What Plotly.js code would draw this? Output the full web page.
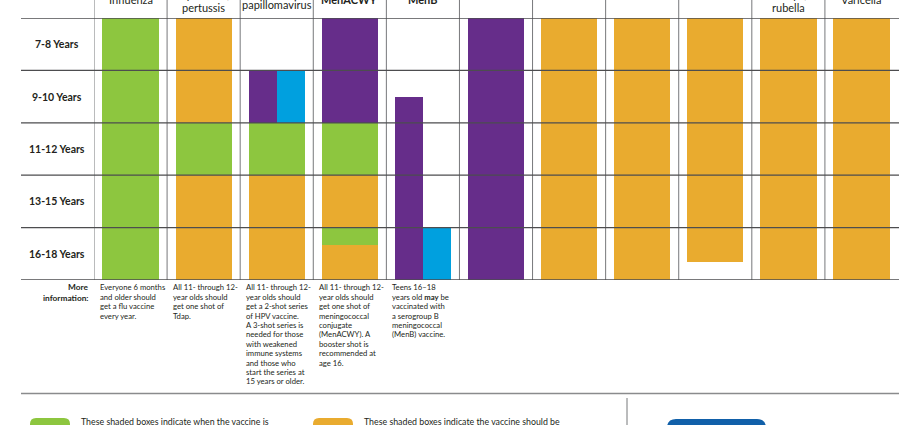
<!DOCTYPE html>
<html>
<head>
<meta charset="utf-8">
<script src="https://cdn.plot.ly/plotly-3.0.1.min.js"></script>
<style>html,body{margin:0;padding:0;background:#fff;}#chart{width:920px;height:425px;}</style>
</head>
<body>
<div id="chart"></div>
<script>
// ---- data ----
const rowLabels = ['7-8 Years', '9-10 Years', '11-12 Years', '13-15 Years', '16-18 Years'];
const vaccines = ['Influenza', 'Tetanus, diphtheria, pertussis', 'Human papillomavirus', 'Meningococcal MenACWY',
  'Meningococcal MenB', 'Pneumococcal', 'Hepatitis B', 'Hepatitis A', 'Polio', 'Measles, mumps, rubella', 'Varicella'];
// header lines that reach into the visible top strip
const headerLines = [['Influenza'], ['diphtheria,', 'pertussis'], ['papillomavirus'],
  ['<b>MenACWY</b>'], ['<b>MenB</b>'], [], [], [], [], ['mumps,', 'rubella'], ['Varicella']];

// segments in row units (0 = start of 7-8 years, 5 = end of 16-18 years)
const greenCol  = [0, 1, 2, 3, 3];
const greenFrom = [0, 2, 2, 2, 4];
const greenTo   = [5, 3, 3, 3, 4.33];
const orangeCol  = [1, 1, 2, 3, 3, 6, 7, 8, 9, 10];
const orangeFrom = [0, 3, 3, 3, 4.33, 0, 0, 0, 0, 0];
const orangeTo   = [2, 5, 5, 4, 5, 5, 5, 4.66, 5, 5];
const purpleCol  = [3, 5];
const purpleFrom = [0, 0];
const purpleTo   = [2, 5];
const purpleHalfCol  = [2, 4];
const purpleHalfFrom = [1, 1.5];
const purpleHalfTo   = [2, 5];
const blueHalfCol  = [2, 4];
const blueHalfFrom = [1, 4];
const blueHalfTo   = [2, 5];

const infoTitle = ['More', 'information:'];
const infoText = [
  ['Everyone 6 months', 'and older should', 'get a flu vaccine', 'every year.'],
  ['All 11- through 12-', 'year olds should', 'get one shot of', 'Tdap.'],
  ['All 11- through 12-', 'year olds should', 'get a 2-shot series', 'of HPV vaccine.', 'A 3-shot series is',
   'needed for those', 'with weakened', 'immune systems', 'and those who', 'start the series at', '15 years or older.'],
  ['All 11- through 12-', 'year olds should', 'get one shot of', 'meningococcal', 'conjugate', '(MenACWY). A',
   'booster shot is', 'recommended at', 'age 16.'],
  ['Teens 16\u201318', 'years old <b>may</b> be', 'vaccinated with', 'a serogroup B', 'meningococcal', '(MenB) vaccine.']
];
const legendTexts = ['These shaded boxes indicate when the vaccine is', 'These shaded boxes indicate the vaccine should be'];

// ---- styles ----
const GREEN = '#8DC63F', ORANGE = '#E9AB2F', PURPLE = '#662D8A', BLUE = '#00A0DF', DARKBLUE = '#1160A9';
const TXT = '#231F20';
const FONT = 'Lato, "Open Sans", sans-serif';
const W = 920, H = 425, L = 94, R = 22, T = 18, B = 145;
const px = X => (X - L) / (W - L - R);
const py = Y => (H - B - Y) / (H - T - B);
const FULL = 0.77, HALF = FULL / 2;

function barTrace(cols, from, to, color, width, offset) {
  return {
    type: 'bar', x: cols.map(c => c + offset), base: from, y: to.map((t, i) => t - from[i]),
    width: cols.map(() => width), marker: {color: color, line: {width: 0}},
    hoverinfo: 'skip', showlegend: false
  };
}
const traces = [
  barTrace(greenCol, greenFrom, greenTo, GREEN, FULL, 0),
  barTrace(orangeCol, orangeFrom, orangeTo, ORANGE, FULL, 0),
  barTrace(purpleCol, purpleFrom, purpleTo, PURPLE, FULL, 0),
  barTrace(purpleHalfCol, purpleHalfFrom, purpleHalfTo, PURPLE, HALF, -HALF / 2),
  barTrace(blueHalfCol, blueHalfFrom, blueHalfTo, BLUE, HALF, HALF / 2)
];

const shapes = [];
// horizontal grid lines
for (let r = 0; r <= rowLabels.length; r++) {
  shapes.push({type: 'line', xref: 'paper', yref: 'y', x0: px(21), x1: px(899), y0: r, y1: r,
    line: {color: '#4d4d4f', width: 1.3}, layer: 'above'});
}
// vertical column lines
for (let c = 0; c < vaccines.length; c++) {
  shapes.push({type: 'line', xref: 'x', yref: 'paper', x0: c - 0.5, x1: c - 0.5, y0: py(280), y1: py(-5),
    line: {color: '#77787b', width: 1}, layer: 'below'});
}
// footer separator and divider
shapes.push({type: 'line', xref: 'paper', yref: 'paper', x0: px(21), x1: px(899), y0: py(393.5), y1: py(393.5),
  line: {color: '#8a8b8d', width: 1.3}});
shapes.push({type: 'line', xref: 'paper', yref: 'paper', x0: px(627), x1: px(627), y0: py(398), y1: py(430),
  line: {color: '#77787b', width: 1}});
// rounded legend boxes
function roundBox(x0, x1, y0, y1, r, color) {
  const path = `M ${x0} ${y1} L ${x0} ${y0 + r} Q ${x0} ${y0} ${x0 + r} ${y0} L ${x1 - r} ${y0} Q ${x1} ${y0} ${x1} ${y0 + r} L ${x1} ${y1} Z`;
  return {type: 'path', xref: 'paper', yref: 'paper',
    path: path.replace(/(-?\d+\.?\d*) (-?\d+\.?\d*)/g, (m, a, b) => `${px(+a)} ${py(+b)}`),
    fillcolor: color, line: {width: 0}};
}
shapes.push(roundBox(30, 70, 418, 440, 6, GREEN));
shapes.push(roundBox(313, 353, 418, 440, 6, ORANGE));
shapes.push(roundBox(667, 766, 419, 450, 9, DARKBLUE));

const annotations = [];
// row labels
rowLabels.forEach((lab, i) => {
  annotations.push({xref: 'paper', yref: 'y', x: px(57), y: i + 0.5, text: '<b>' + lab + '</b>', showarrow: false,
    xanchor: 'center', yanchor: 'middle', font: {family: FONT, size: 10.5, color: TXT}});
});
// header lines (baseline of last line)
const lastBaseline = [4, 11.7, 9.3, 4, 4, 0, 0, 0, 0, 11.7, 4];
headerLines.forEach((lines, c) => {
  lines.forEach((ln, k) => {
    const base = lastBaseline[c] - (lines.length - 1 - k) * 12.7;
    annotations.push({xref: 'x', yref: 'paper', x: c, y: py(base - 4.3), text: ln, showarrow: false,
      xanchor: 'center', yanchor: 'middle', font: {family: FONT, size: 11, color: TXT}});
  });
});
// more information
infoTitle.forEach((ln, k) => {
  annotations.push({xref: 'paper', yref: 'paper', x: px(90), y: py(287.3 + k * 10.5), text: '<b>' + ln + '</b>',
    showarrow: false, xanchor: 'right', yanchor: 'middle', font: {family: FONT, size: 8.3, color: TXT}});
});
infoText.forEach((lines, c) => {
  lines.forEach((ln, k) => {
    annotations.push({xref: 'x', yref: 'paper', x: c - 0.5, xshift: 4, y: py(287.3 + k * 9.4), text: ln,
      showarrow: false, xanchor: 'left', yanchor: 'middle', font: {family: FONT, size: 7.7, color: TXT}});
  });
});
// legend texts
annotations.push({xref: 'paper', yref: 'paper', x: px(79), y: py(421.5), text: legendTexts[0], showarrow: false,
  xanchor: 'left', yanchor: 'middle', font: {family: FONT, size: 8.8, color: TXT}});
annotations.push({xref: 'paper', yref: 'paper', x: px(362), y: py(421.5), text: legendTexts[1], showarrow: false,
  xanchor: 'left', yanchor: 'middle', font: {family: FONT, size: 8.8, color: TXT}});

const layout = {
  width: W, height: H, margin: {l: L, r: R, t: T, b: B, pad: 0},
  paper_bgcolor: '#fff', plot_bgcolor: '#fff', barmode: 'overlay', bargap: 0,
  xaxis: {range: [-0.5, 10.5], visible: false, fixedrange: true},
  yaxis: {range: [5, 0], visible: false, fixedrange: true},
  shapes: shapes, annotations: annotations, showlegend: false
};
Plotly.newPlot('chart', traces, layout, {displayModeBar: false, staticPlot: true});
</script>
</body>
</html>
